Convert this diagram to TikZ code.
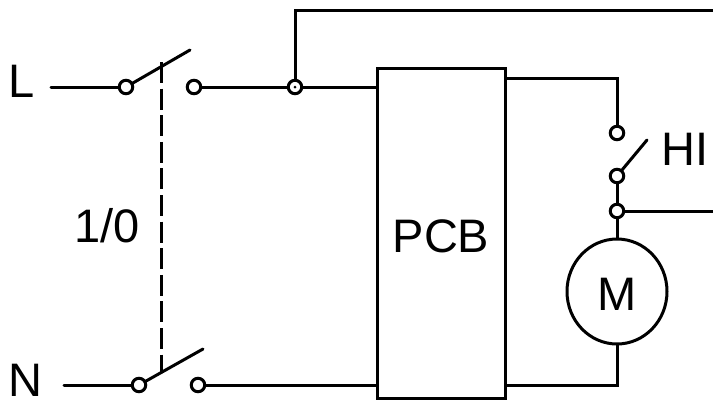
\documentclass[tikz,border=0pt]{standalone}
\usepackage{fontspec}
\usetikzlibrary{shapes.geometric}
\setmainfont{Liberation Sans}
\tikzset{
  x=1pt,y=-1pt,
  wire/.style={line width=3pt,line cap=round,line join=miter,black},
  term/.style={circle,draw=black,fill=white,line width=3pt,minimum size=13.5pt,inner sep=0pt,outer sep=0pt},
  lbl/.style={font=\fontsize{47}{47}\selectfont,inner sep=0pt,anchor=base,black},
  linkage/.style={line width=3pt,black,dash pattern=on 21pt off 5.6pt},
}
\begin{document}
\begin{tikzpicture}
\useasboundingbox (0,0) rectangle (713,400);
% free wire ends and blade tips
\coordinate (lstart) at (51,87);
\coordinate (nstart) at (64,385);
\coordinate (topcorner) at (295,10);
\coordinate (topend) at (713,10);
\coordinate (midend) at (713,211);
\coordinate (lblade) at (190,50);
\coordinate (nblade) at (203,349);
\coordinate (hiblade) at (647,140);
\coordinate (llink) at (161,62);
\coordinate (nlink) at (161,372);
\coordinate (pcbtop) at (505,78);
\coordinate (pcbbot) at (505,385);
\coordinate (pcbl1) at (377,87);
\coordinate (pcbl2) at (377,385);
\coordinate (rt) at (617,78);
\coordinate (rb) at (617,385);
% wires under the terminals
\draw[wire] (lstart) -- (126,87) coordinate (a);
\draw[wire] (nstart) -- (139,385) coordinate (b);
\draw[wire] (194,87) coordinate (c) -- (pcbl1);
\draw[wire] (198,385) coordinate (d) -- (pcbl2);
\draw[wire] (295,87) coordinate (e) -- (topcorner) -- (topend);
\draw[wire] (pcbtop) -- (rt) -- (617,133) coordinate (f);
\draw[wire] (617,176) coordinate (g) -- (617,211) coordinate (h) -- (617,291);
\draw[wire] (h) -- (midend);
\draw[wire] (617,291) coordinate (mc) -- (rb) -- (pcbbot);
% PCB box
\draw[line width=3pt,black,fill=white] (377,68) rectangle (505,398.5);
\node[lbl] (pcb) at (441,252) {PCB};
% terminals
\node[term] (ta) at (a) {};
\node[term] (tb) at (b) {};
\node[term] (tc) at (c) {};
\node[term] (td) at (d) {};
\node[term] (te) at (e) {};
\node[term] (tf) at (f) {};
\node[term] (tg) at (g) {};
\node[term] (th) at (h) {};
\fill[black] (te.center) circle (1.5pt);
% blades
\draw[wire] (ta) -- (lblade);
\draw[wire] (tb) -- (nblade);
\draw[wire] (tg) -- (hiblade);
% linkage
\draw[linkage] (llink) -- (nlink);
% motor
\node[ellipse,draw=black,fill=white,line width=3pt,minimum width=100pt,minimum height=105pt,inner sep=0pt] (m) at (617,291.5) {};
\node[lbl] (mt) at (617,310) {M};
% labels
\node[lbl,anchor=base west] (ll) at (8.6,97) {L};
\node[lbl,anchor=base west] (nl) at (8.5,396) {N};
\node[lbl] (oo) at (107,242) {1/0};
\node[lbl] (hi) at (685,165) {HI};
\end{tikzpicture}
\end{document}
